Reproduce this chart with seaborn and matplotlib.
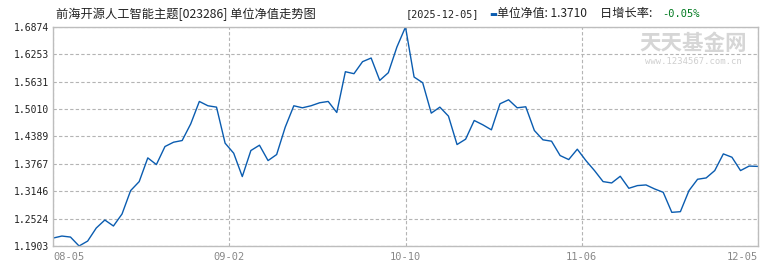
import matplotlib
matplotlib.use("Agg")
import matplotlib.pyplot as plt
import seaborn as sns
import numpy as np
import pandas as pd

title = "前海开源人工智能主题[023286] 单位净值走势图"
date_text = "[2025-12-05]"
nav_label = "单位净值: 1.3710"
growth_label = "日增长率: "
growth_value = "-0.05%"

nav = [
    1.2084, 1.2129, 1.2106, 1.1903, 1.2015, 1.2311, 1.2493, 1.2357, 1.2629, 1.3160,
    1.3365, 1.3903, 1.3751, 1.4161, 1.4259, 1.4297, 1.4676, 1.5184, 1.5086, 1.5055,
    1.4237, 1.4009, 1.3479, 1.4070, 1.4191, 1.3842, 1.3979, 1.4601, 1.5086, 1.5040,
    1.5086, 1.5154, 1.5184, 1.4934, 1.5859, 1.5814, 1.6087, 1.6170, 1.5662, 1.5836,
    1.6420, 1.6874, 1.5738, 1.5609, 1.4919, 1.5055, 1.4851, 1.4206, 1.4328, 1.4752,
    1.4654, 1.4540, 1.5131, 1.5222, 1.5040, 1.5063, 1.4525, 1.4313, 1.4282, 1.3956,
    1.3865, 1.4100, 1.3842, 1.3615, 1.3365, 1.3334, 1.3486, 1.3213, 1.3274, 1.3289,
    1.3198, 1.3122, 1.2667, 1.2682, 1.3160, 1.3418, 1.3448, 1.3615, 1.3994, 1.3918,
    1.3615, 1.3717, 1.3710,
]
x_labels = ["08-05", "09-02", "10-10", "11-06", "12-05"]
y_ticks = [1.1903, 1.2524, 1.3146, 1.3767, 1.4389, 1.5010, 1.5631, 1.6253, 1.6874]

df = pd.DataFrame({"idx": np.arange(len(nav)), "nav": nav})

sns.set_style("white")
plt.rcParams["font.family"] = ["Noto Sans CJK SC", "DejaVu Sans"]

fig = plt.figure(figsize=(7.7, 2.7), dpi=100)
ax = fig.add_axes([53.3 / 770, 24 / 270, (757.7 - 53.3) / 770, 219 / 270])

sns.lineplot(data=df, x="idx", y="nav", ax=ax, color="#0a5cb0", linewidth=1.0)

n = len(nav) - 1
ax.set_xlim(0, n)
ax.set_ylim(y_ticks[0], y_ticks[-1])
xt = [0, n / 4, n / 2, 3 * n / 4, n]
ax.set_xticks(xt)
ax.set_xticklabels(x_labels)
ax.set_yticks(y_ticks)
ax.set_yticklabels([f"{v:.4f}" for v in y_ticks])
ax.set_xlabel("")
ax.set_ylabel("")

ax.grid(True, color="#b4b4b4", linestyle=(0, (3, 2)), linewidth=0.8)
for s in ax.spines.values():
    s.set_color("#bdbdbd")
    s.set_linewidth(1.0)

ax.tick_params(axis="both", length=0)
ax.tick_params(axis="y", pad=3, labelsize=7, labelcolor="#222222")
ax.tick_params(axis="x", pad=4, labelsize=7.5, labelcolor="#888888")
for lab in ax.get_yticklabels():
    lab.set_family("DejaVu Sans Mono")
xl = ax.get_xticklabels()
for lab in xl:
    lab.set_family("DejaVu Sans Mono")
xl[0].set_horizontalalignment("left")
xl[-1].set_horizontalalignment("right")

# title texts
fig.text(56 / 770, 1 - 14 / 270, title, fontsize=8.8, color="#222222",
         va="center", ha="left", family=["Noto Sans CJK SC", "DejaVu Sans"])
fig.text(406 / 770, 1 - 14 / 270, date_text, fontsize=7.4, color="#222222",
         va="center", ha="left", family=["DejaVu Sans Mono"])
fig.text(489 / 770, 1 - 14.5 / 270, "▬", fontsize=6, color="#0a5cb0",
         va="center", ha="left", family=["DejaVu Sans"])
fig.text(497 / 770, 1 - 14 / 270, nav_label, fontsize=8.6, color="#222222",
         va="center", ha="left", family=["Noto Sans CJK SC", "DejaVu Sans"])
fig.text(600 / 770, 1 - 14 / 270, growth_label, fontsize=8.8, color="#222222",
         va="center", ha="left", family=["Noto Sans CJK SC", "DejaVu Sans"])
fig.text(662 / 770, 1 - 14 / 270, growth_value, fontsize=7.5, color="#007a1f",
         va="center", ha="left", family=["DejaVu Sans Mono"])

# watermark
fig.text(693 / 770, 1 - 44 / 270, "天天基金网", fontsize=15.5, color="#d6d6d6",
         va="center", ha="center", weight="bold",
         family=["Noto Sans CJK SC", "DejaVu Sans"])
fig.text(693 / 770, 1 - 62 / 270, "www.1234567.com.cn", fontsize=6.4, color="#cfcfcf",
         va="center", ha="center", family=["DejaVu Sans Mono"])

fig.savefig("out.png", dpi=100)
